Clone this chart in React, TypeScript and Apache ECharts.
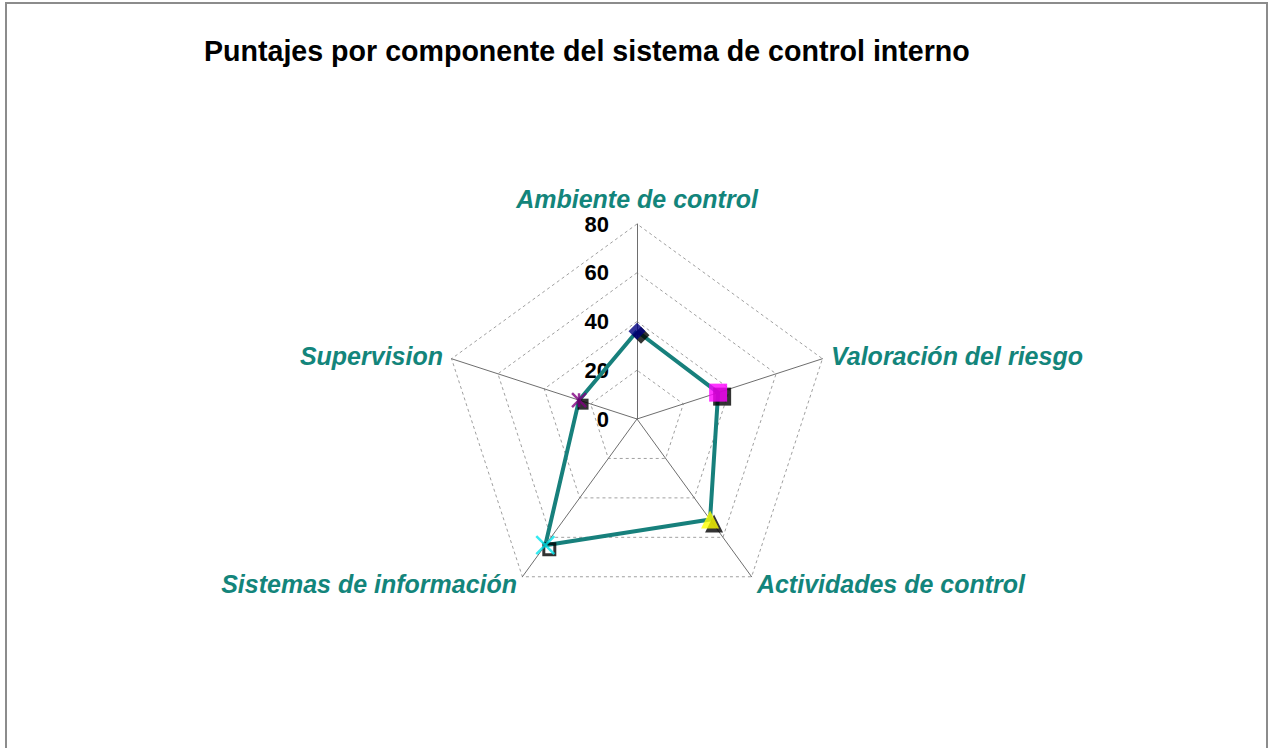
import React, { useEffect, useRef } from "react";
import * as echarts from "echarts";

// Components in clockwise order starting at the top
const components = [
  "Ambiente de control",
  "Valoración del riesgo",
  "Actividades de control",
  "Sistemas de información",
  "Supervision",
];
const scores = [36, 35, 51, 64, 25];
const axisMax = 80;
const tickLabels = ["0", "20", "40", "60", "80"];

const markerSymbols = [
  "diamond",
  "rect",
  "triangle",
  "path://M0,0L10,10M10,0L0,10",
  "path://M5,0L5,10M0,0L10,10M10,0L0,10",
];
const markerColors = ["#000080", "#ff00ff", "#ffff00", "#00e5ee", "#800080"];
const shadowSymbols = ["diamond", "rect", "triangle", "rect", "rect"];

const TEAL = "#13857b";
const FONT = "'Liberation Sans', Arial, sans-serif";

export default function App() {
  const ref = useRef<HTMLDivElement>(null);
  useEffect(() => {
    const chart = echarts.init(ref.current!, null, { renderer: "svg" });
    const n = components.length;
    // ECharts radar goes counter-clockwise, so reverse after the first to get clockwise
    const order = [0, ...Array.from({ length: n - 1 }, (_, i) => n - 1 - i)];
    const indicator = order.map((idx, k) => {
      const ind: any = { name: components[idx], min: 0, max: axisMax };
      if (k === 0) {
        ind.nameGap = 12.5;
        ind.axisLabel = {
          show: true,
          margin: 28,
          color: "#000",
          fontSize: 22,
          lineHeight: 16,
          fontWeight: "bold",
          fontFamily: FONT,
          formatter: (v: number) => tickLabels[Math.round(v / 20)] ?? String(v),
        };
      }
      return ind;
    });
    const radarValues = order.map((idx) => scores[idx]);
    const step = 360 / n;
    const markerData = components.map((_, i) => ({
      value: [scores[i], i * step],
      symbol: markerSymbols[i],
      symbolSize: i === 0 ? 17 : i === 4 ? 14 : 18,
      itemStyle:
        i >= 3
          ? { color: "transparent", borderColor: markerColors[i], borderWidth: 2.5 }
          : { color: markerColors[i] },
    }));
    const shadowData = components.map((_, i) => ({
      value: [scores[i], i * step],
      symbol: shadowSymbols[i],
      symbolSize: i === 0 ? 17 : i >= 3 ? 11 : 18,
      itemStyle:
        i === 3
          ? { color: "transparent", borderColor: "#000", borderWidth: 3 }
          : { color: "#000" },
    }));

    chart.setOption({
      animation: false,
      backgroundColor: "#fff",
      title: {
        text: "Puntajes por componente del sistema de control interno",
        left: 199,
        top: 31,
        textStyle: { fontSize: 28.6, fontWeight: "bold", color: "#000", fontFamily: FONT },
      },
      graphic: [
        {
          type: "rect",
          shape: { x: 6, y: 3, width: 1261, height: 760 },
          style: { fill: "none", stroke: "#8c8c8c", lineWidth: 2 },
          silent: true,
        },
      ],
      radar: {
        center: [637, 419],
        radius: 195,
        startAngle: 90,
        shape: "polygon",
        splitNumber: 4,
        nameGap: 9,
        axisName: {
          color: TEAL,
          fontSize: 25,
          fontWeight: "bold",
          fontStyle: "italic",
          fontFamily: FONT,
        },
        indicator,
        axisLine: { lineStyle: { color: "#6e6e6e", width: 1 } },
        splitLine: { lineStyle: { color: "#a0a0a0", type: [3, 3], width: 1 } },
        splitArea: { show: false },
        axisLabel: { show: false },
      },
      polar: { center: [637, 419], radius: 195 },
      angleAxis: {
        type: "value",
        min: 0,
        max: 360,
        startAngle: 90,
        clockwise: true,
        show: false,
      },
      radiusAxis: { type: "value", min: 0, max: axisMax, show: false },
      series: [
        {
          type: "radar",
          symbol: "none",
          lineStyle: { color: "#17807c", width: 4 },
          data: [{ value: radarValues }],
          z: 2,
        },
        {
          type: "scatter",
          coordinateSystem: "polar",
          symbolOffset: [4, 4],
          data: shadowData,
          z: 3,
        },
        {
          type: "scatter",
          coordinateSystem: "polar",
          data: markerData,
          z: 4,
        },
      ],
    });
    return () => chart.dispose();
  }, []);
  return (
    <div
      ref={ref}
      style={{ position: "absolute", left: 0, top: 0, width: 1275, height: 748, background: "#fff" }}
    />
  );
}
